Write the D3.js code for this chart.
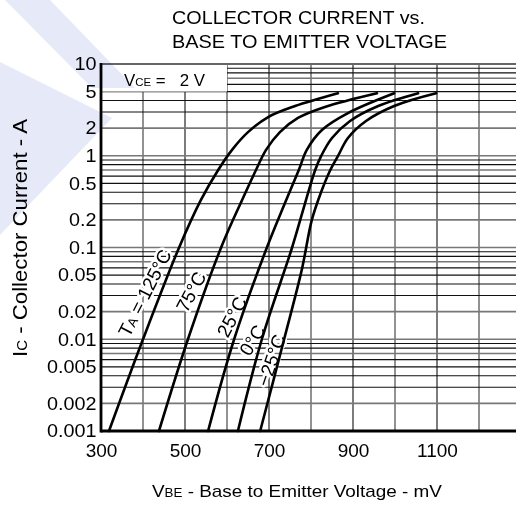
<!DOCTYPE html>
<html>
<head>
<meta charset="utf-8">
<script src="https://cdn.jsdelivr.net/npm/d3@7"></script>
<style>
  body { margin: 0; background: #fff; }
  text { font-family: "Liberation Sans", Arial, sans-serif; fill: #000; }
</style>
</head>
<body>
<script>
const w = 516;
const h = 506;

// VBE (mV) against IC (A)
const vbe125 = [319, 400, 486, 538, 579, 612, 650, 698, 762, 864];
const ic125  = [0.001, 0.01, 0.1, 0.33, 0.7, 1.16, 1.81, 2.64, 3.48, 4.8];
const vbe75  = [438, 507, 586, 636, 669, 693, 726, 769, 833, 957];
const ic75   = [0.001, 0.01, 0.1, 0.33, 0.7, 1.16, 1.81, 2.58, 3.4, 4.8];
const vbe25  = [555, 617, 695, 738, 771, 790, 826, 888, 998];
const ic25   = [0.001, 0.01, 0.1, 0.305, 0.7, 1.16, 1.91, 2.92, 4.8];
const vbe0   = [626, 683, 755, 786, 810, 824, 850, 893, 960, 1055];
const ic0    = [0.001, 0.01, 0.1, 0.305, 0.7, 0.99, 1.56, 2.39, 3.48, 4.8];
const vbeM25 = [679, 736, 778, 802, 823, 846, 864, 888, 931, 998, 1098];
const icM25  = [0.001, 0.01, 0.057, 0.2, 0.39, 0.7, 0.99, 1.56, 2.39, 3.48, 4.8];

const tempNames = ["125°C", "75°C", "25°C", "0°C", "−25°C"];
const xTicks = [300, 500, 700, 900, 1100];
const yTicks = [0.001, 0.002, 0.005, 0.01, 0.02, 0.05, 0.1, 0.2, 0.5, 1, 2, 5, 10];

const series = [
  {name: tempNames[0], v: vbe125, i: ic125},
  {name: tempNames[1], v: vbe75,  i: ic75},
  {name: tempNames[2], v: vbe25,  i: ic25},
  {name: tempNames[3], v: vbe0,   i: ic0},
  {name: tempNames[4], v: vbeM25, i: icM25}
];

// where the rotated curve labels sit (data space) and their angle
const labelAt = [
  {v: 404, i: 0.032,  rot: -63},
  {v: 514, i: 0.033,  rot: -62},
  {v: 611, i: 0.0176, rot: -62},
  {v: 660, i: 0.0098, rot: -59},
  {v: 705, i: 0.0059, rot: -71}
];

const pLeft = 101, pRight = 521, pTop = 64, pBottom = 431;
const SX = 1.1; // the scan is a bit wide, stretch text to suit

const x = d3.scaleLinear().domain([300, 1300]).range([pLeft, pRight]);
const y = d3.scaleLog().domain([0.001, 10]).range([pBottom, pTop]);

const svg = d3.select('body').append('svg')
  .attr('width', w)
  .attr('height', h);

// grid
const grid = svg.append('g');
d3.range(400, 1300, 100).forEach(v => {
  const odd = (v / 100) % 2 === 1;
  grid.append('line')
    .attr('x1', x(v)).attr('x2', x(v))
    .attr('y1', pTop).attr('y2', pBottom)
    .attr('stroke', odd ? '#111' : '#777')
    .attr('stroke-width', odd ? 1.1 : 1.6);
});
[0.001, 0.01, 0.1, 1].forEach(dec => {
  for (let m = 1; m <= 9; m++) {
    const val = dec * m;
    const light = m === 1 || m === 2 || m === 7;
    grid.append('line')
      .attr('x1', pLeft).attr('x2', pRight)
      .attr('y1', y(val)).attr('y2', y(val))
      .attr('stroke', light ? '#777' : '#111')
      .attr('stroke-width', light ? 1.6 : 1.1);
  }
});

// VCE box (white patch over the grid)
svg.append('rect')
  .attr('x', pLeft).attr('y', pTop)
  .attr('width', x(600) - pLeft)
  .attr('height', y(5) - pTop)
  .attr('fill', '#fff');

const vce = svg.append('text')
  .attr('x', 124).attr('y', 86)
  .attr('font-size', 17)
  .attr('textLength', 81)
  .attr('lengthAdjust', 'spacingAndGlyphs');
vce.append('tspan').text('V');
vce.append('tspan').attr('font-size', 11.5).text('CE');
vce.append('tspan').attr('xml:space', 'preserve').text(' =   2 V');

// curve labels (white backing hides the grid, curves go on top)
series.forEach((s, k) => {
  const p = labelAt[k];
  const t = svg.append('text')
    .attr('transform', `translate(${x(p.v)},${y(p.i)}) rotate(${p.rot})`)
    .attr('text-anchor', 'middle')
    .attr('dy', '0.36em')
    .attr('font-size', 19)
    .attr('stroke', '#fff')
    .attr('stroke-width', 5)
    .attr('stroke-linejoin', 'round')
    .attr('paint-order', 'stroke');
  if (k === 0) {
    t.append('tspan').text('T');
    t.append('tspan').attr('font-size', 13).text('A');
    t.append('tspan').text(' = ' + s.name);
  } else {
    t.text(s.name);
  }
});

// frame
svg.append('line').attr('x1', pLeft).attr('x2', pRight).attr('y1', pTop).attr('y2', pTop)
  .attr('stroke', '#666').attr('stroke-width', 2.2);
svg.append('line').attr('x1', pLeft).attr('x2', pLeft).attr('y1', pTop - 1).attr('y2', pBottom + 1.5)
  .attr('stroke', '#000').attr('stroke-width', 2.8);
svg.append('line').attr('x1', pLeft).attr('x2', pRight).attr('y1', pBottom).attr('y2', pBottom)
  .attr('stroke', '#000').attr('stroke-width', 2.8);

// curves
const line = d3.line()
  .x(d => x(d[0]))
  .y(d => y(d[1]))
  .curve(d3.curveCatmullRom.alpha(0.5));

svg.selectAll('path.curve')
  .data(series)
  .enter()
  .append('path')
  .attr('class', 'curve')
  .attr('d', s => line(s.v.map((v, k) => [v, s.i[k]])))
  .attr('fill', 'none')
  .attr('stroke', '#000')
  .attr('stroke-width', 2.6)
  .attr('stroke-linecap', 'round');

// axes
const yAxis = svg.append('g')
  .attr('transform', `translate(${pLeft},0)`)
  .call(d3.axisLeft(y).tickValues(yTicks).tickFormat(d => String(d)).tickSize(0).tickPadding(4));
yAxis.select('.domain').remove();
yAxis.selectAll('text')
  .attr('font-size', 18)
  .attr('fill', '#000')
  .attr('font-family', '"Liberation Sans", Arial, sans-serif')
  .attr('transform', `scale(${SX},1)`);

const xAxis = svg.append('g')
  .attr('transform', `translate(0,${pBottom})`)
  .call(d3.axisBottom(x).tickValues(xTicks).tickFormat(d => String(d)).tickSize(0).tickPadding(13));
xAxis.select('.domain').remove();
xAxis.selectAll('text')
  .attr('font-size', 19)
  .attr('fill', '#000')
  .attr('font-family', '"Liberation Sans", Arial, sans-serif');

// titles
svg.append('text')
  .attr('x', 172).attr('y', 24)
  .attr('font-size', 17.7)
  .attr('textLength', 253).attr('lengthAdjust', 'spacingAndGlyphs')
  .text('COLLECTOR CURRENT vs.');
svg.append('text')
  .attr('x', 172).attr('y', 48)
  .attr('font-size', 17.7)
  .attr('textLength', 275).attr('lengthAdjust', 'spacingAndGlyphs')
  .text('BASE TO EMITTER VOLTAGE');

const xt = svg.append('text')
  .attr('x', 152).attr('y', 497)
  .attr('font-size', 17)
  .attr('textLength', 290).attr('lengthAdjust', 'spacingAndGlyphs');
xt.append('tspan').text('V');
xt.append('tspan').attr('font-size', 12).text('BE');
xt.append('tspan').text(' - Base to Emitter Voltage - mV');

const yt = svg.append('text')
  .attr('transform', `translate(27,357) scale(${SX},1) rotate(-90)`)
  .attr('font-size', 18.5)
  .attr('textLength', 238).attr('lengthAdjust', 'spacingAndGlyphs');
yt.append('tspan').text('I');
yt.append('tspan').attr('font-size', 12.5).text('C');
yt.append('tspan').text(' - Collector Current - A');

// faint watermark in the corner
const wm = svg.append('g').style('mix-blend-mode', 'multiply').attr('fill', '#e6eaf8');
wm.append('polygon').attr('points', '5,0 50,0 135,88 92,88');
wm.append('polygon').attr('points', '0,62 112,118 0,235');
</script>
</body>
</html>
